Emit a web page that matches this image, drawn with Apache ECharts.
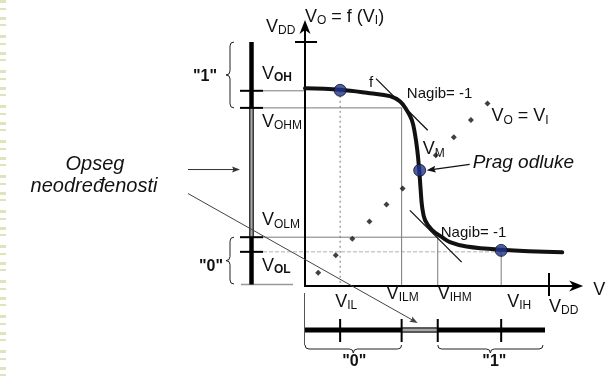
<!DOCTYPE html>
<html>
<head>
<meta charset="utf-8">
<script src="https://cdn.jsdelivr.net/npm/echarts@6/dist/echarts.min.js"></script>
<style>
  html, body { margin: 0; padding: 0; background: #fff; }
  #chart { width: 606px; height: 376px; }
</style>
</head>
<body>
<div id="chart"></div>
<script>
// Supply voltage (V)
const VDD = 5.0;
// Input thresholds on the VI axis (V)
const inputNames = ['IL', 'ILM', 'IHM', 'IH'];
const inputValues = [0.72, 1.98, 2.72, 4.02];
// Output levels on the VO axis (V)
const outputNames = ['OH', 'OHM', 'OLM', 'OL'];
const outputValues = [4.0, 3.65, 1.0, 0.7];
// Switching threshold VM, where VO = VI
const switchingPoint = [2.35, 2.37];
// Transfer characteristic VO = f(VI)
const vtcIn  = [0, 0.72, 1.33, 1.74, 1.95, 2.08, 2.19, 2.25, 2.30, 2.34, 2.37, 2.40, 2.46, 2.60, 2.80, 2.97, 3.31, 4.02, 5.27];
const vtcOut = [4.05, 4.02, 3.95, 3.89, 3.78, 3.61, 3.40, 3.135, 2.79, 2.38, 1.97, 1.625, 1.35, 1.15, 1.005, 0.90, 0.81, 0.745, 0.69];
// Dotted reference line VO = VI
const unityIn = [0.27, 0.63, 0.97, 1.32, 1.67, 2.00, 2.68, 3.05, 3.40, 3.74];
// Points where the curve has slope -1
const tangentAt = [[1.985, 3.72], [2.68, 1.02]];
const tangentHalf = 0.53;
// Axis extents drawn as arrows (V)
const axisEnd = { x: 5.7, y: 5.45 };

// ---- layout ----
const PX_PER_V = 48.8;
const ORIGIN = [305, 286];
const W = 606, H = 376;
const FONT = '"Liberation Sans", Arial, Helvetica, sans-serif';

const VIL = inputValues[0], VILM = inputValues[1], VIHM = inputValues[2], VIH = inputValues[3];
const VOH = outputValues[0], VOHM = outputValues[1], VOLM = outputValues[2], VOL = outputValues[3];

const rich = {
  v:  { fontSize: 18, lineHeight: 20, fontFamily: FONT, fill: '#111' },
  s:  { fontSize: 12, lineHeight: 12, padding: [8, 0, 0, 0], fontFamily: FONT, fill: '#111' },
  sb: { fontSize: 12, lineHeight: 12, padding: [8, 0, 0, 0], fontFamily: FONT, fontWeight: 'bold', fill: '#111' }
};
const vSub = (s, bold) => '{v|V}{' + (bold ? 'sb' : 's') + '|' + s + '}';

function renderDiagram(params, api) {
  const P = (x, y) => api.coord([x, y]);
  const xAt = v => P(v, 0)[0];
  const yAt = v => P(0, v)[1];
  const ax = xAt(0), ay = yAt(0);
  const kids = [];

  const line = (a, b, st) => kids.push({
    type: 'line', shape: { x1: a[0], y1: a[1], x2: b[0], y2: b[1] },
    style: Object.assign({ stroke: '#000', lineWidth: 1, lineCap: 'butt' }, st || {})
  });
  const head = (tip, from, len, hw, notch, color) => {
    const dx = tip[0] - from[0], dy = tip[1] - from[1];
    const d = Math.hypot(dx, dy), ux = dx / d, uy = dy / d;
    const bx = tip[0] - ux * len, by = tip[1] - uy * len;
    const nx = tip[0] - ux * (len - notch), ny = tip[1] - uy * (len - notch);
    kids.push({ type: 'polygon', shape: { points: [
      tip, [bx - uy * hw, by + ux * hw], [nx, ny], [bx + uy * hw, by - ux * hw]
    ] }, style: { fill: color || '#000' } });
  };
  const arrow = (a, b, st, len, hw) => {
    const dx = b[0] - a[0], dy = b[1] - a[1], d = Math.hypot(dx, dy);
    const e = [b[0] - dx / d * (len - 2), b[1] - dy / d * (len - 2)];
    line(a, e, st);
    head(b, a, len, hw, 1.5, (st && st.stroke) || '#000');
  };
  const path = (d, st) => kids.push({
    type: 'path', shape: { pathData: d },
    style: Object.assign({ stroke: '#222', fill: null, lineWidth: 1 }, st || {})
  });
  const braceV = (x, y1, y2) => {
    const m = (y1 + y2) / 2, r = 4;
    path(`M${x + r} ${y1} Q${x} ${y1} ${x} ${y1 + r} L${x} ${m - r} Q${x} ${m} ${x - r} ${m} ` +
         `Q${x} ${m} ${x} ${m + r} L${x} ${y2 - r} Q${x} ${y2} ${x + r} ${y2}`);
  };
  const braceH = (y, x1, x2) => {
    const m = (x1 + x2) / 2, r = 4;
    path(`M${x1} ${y - r} Q${x1} ${y} ${x1 + r} ${y} L${m - r} ${y} Q${m} ${y} ${m} ${y + r} ` +
         `Q${m} ${y} ${m + r} ${y} L${x2 - r} ${y} Q${x2} ${y} ${x2} ${y - r}`);
  };
  const text = (x, y, t, st) => kids.push({
    type: 'text', z2: 10,
    style: Object.assign({ x: x, y: y, text: t, rich: rich, fill: '#111', fontFamily: FONT,
      fontSize: 15, align: 'left', verticalAlign: 'middle' }, st || {})
  });

  const GREY = { stroke: '#7a7a7a', lineWidth: 1 };

  // guide lines from output levels
  const tickL = ax - 65, tickR = ax - 42;
  line([tickR, yAt(VOH)], [ax, yAt(VOH)], GREY);
  line([tickR, yAt(VOHM)], [xAt(VILM), yAt(VOHM)], GREY);
  line([tickR, yAt(VOLM)], [xAt(VIHM), yAt(VOLM)], GREY);
  line([tickR, yAt(VOL)], [xAt(VIH), yAt(VOL)], { stroke: '#b0b0b0', lineWidth: 1, lineDash: [4, 2] });
  line([ax - 64, ay - 1.5], [ax - 12, ay - 1.5], { stroke: '#999', lineWidth: 1.5 });
  // guide lines to input thresholds
  line([xAt(VIL), yAt(VOH)], [xAt(VIL), ay], { stroke: '#777', lineWidth: 1, lineDash: [2, 3] });
  line([xAt(VILM), yAt(VOHM)], [xAt(VILM), ay], GREY);
  line([xAt(VIHM), yAt(VOLM)], [xAt(VIHM), ay], GREY);
  line([xAt(VIH), yAt(VOL)], [xAt(VIH), ay], GREY);

  // slope -1 tangents
  tangentAt.forEach(t => line(P(t[0] - tangentHalf, t[1] + tangentHalf), P(t[0] + tangentHalf, t[1] - tangentHalf),
    { stroke: '#111', lineWidth: 1.3 }));

  // axes
  const yTop = yAt(axisEnd.y), xEnd = xAt(axisEnd.x);
  line([ax, ay], [ax, yTop + 10], { lineWidth: 2 });
  head([ax, yTop], [ax, ay], 14, 5.5, 4);
  line([ax - 1, ay], [xEnd - 10, ay], { lineWidth: 2 });
  head([xEnd, ay], [ax, ay], 14, 5.5, 4);
  line([ax - 10, yAt(VDD)], [ax + 12, yAt(VDD)], { lineWidth: 2 });
  line([xAt(VDD), ay - 13], [xAt(VDD), ay + 10], { lineWidth: 2 });

  // output level bar
  const bx = ax - 53.5;
  line([bx, yAt(VDD)], [bx, yAt(VOHM)], { lineWidth: 4.5 });
  line([bx, yAt(VOHM)], [bx, yAt(VOLM)], { stroke: '#3a3a3a', lineWidth: 5 });
  line([bx, yAt(VOHM)], [bx, yAt(VOLM)], { stroke: '#a8a8a8', lineWidth: 2 });
  line([bx, yAt(VOLM)], [bx, ay - 1.5], { lineWidth: 4.5 });
  outputValues.forEach(v => line([tickL, yAt(v)], [tickR, yAt(v)], { lineWidth: 2 }));

  // input level bar
  const by = ay + 44;
  line([ax - 0.5, ay + 7], [ax - 0.5, ay + 59], { stroke: '#555', lineWidth: 1 });
  line([ax, by], [xAt(VDD) - 4, by], { lineWidth: 5 });
  line([xAt(VILM), by], [xAt(VIHM), by], { stroke: '#3a3a3a', lineWidth: 5 });
  line([xAt(VILM), by], [xAt(VIHM), by], { stroke: '#a8a8a8', lineWidth: 2.5 });
  inputValues.forEach(v => line([xAt(v), ay + 33], [xAt(v), ay + 56], { lineWidth: 2 }));

  // braces
  braceV(ax - 75, yAt(VDD), yAt(VOHM));
  braceV(ax - 75, yAt(VOLM), ay - 2);
  braceH(ay + 63, ax, xAt(VILM));
  braceH(ay + 63, xAt(VIHM), xAt(VDD) - 6);

  // arrows into the undefined region
  const midY = (yAt(VOHM) + yAt(VOLM)) / 2 - 3;
  arrow([ax - 117, midY], [ax - 65, midY], { stroke: '#333', lineWidth: 1 }, 8, 3);
  arrow([ax - 117, midY + 24], [(xAt(VILM) + xAt(VIHM)) / 2 - 2, by - 7], { stroke: '#444', lineWidth: 1 }, 8, 3);
  const vm = P(switchingPoint[0], switchingPoint[1]);
  arrow([vm[0] + 50, vm[1] - 6], [vm[0] + 7, vm[1]], { stroke: '#111', lineWidth: 1.2 }, 9, 3.5);

  // texts
  text(ax - 39, yAt(VDD) - 15, vSub('DD'));
  text(ax, yTop - 3, '{v|V}{s|O}{v| = f (V}{s|I}{v|)}');
  const outSide = [-1, 1, -1, 1];
  outputNames.forEach((n, i) => text(ax - 43, yAt(outputValues[i]) + outSide[i] * 15.5 - 1.5,
    vSub(n, n === 'OH' || n === 'OL')));
  const inOffset = [[-5, 16], [-15, 8], [0, 8], [6, 16]];
  inputNames.forEach((n, i) => text(xAt(inputValues[i]) + inOffset[i][0], ay + inOffset[i][1], vSub(n)));
  text(xAt(VDD), ay + 21, vSub('DD'));
  text(xEnd + 10, ay + 4, vSub('I'));
  text(vm[0] + 3, vm[1] - 21, vSub('M'));
  text(vm[0] + 53, vm[1] - 8, 'Prag odluke', { fontSize: 19, fontStyle: 'italic', rich: null });
  const tU = P(tangentAt[0][0], tangentAt[0][1]), tL = P(tangentAt[1][0], tangentAt[1][1]);
  text(tU[0] + 5, tU[1] - 10.5, 'Nagib= -1', { fontSize: 15, rich: null });
  text(tL[0] + 5, tL[1] - 3, 'Nagib= -1', { fontSize: 15, rich: null });
  const tTop = P(tangentAt[0][0] - tangentHalf, tangentAt[0][1] + tangentHalf);
  text(tTop[0] - 5, tTop[1] + 4, 'f', { fontSize: 15, align: 'center', rich: null });
  const uLast = P(unityIn[unityIn.length - 1], unityIn[unityIn.length - 1]);
  text(uLast[0] + 4, uLast[1] + 13, '{v|V}{s|O}{v| = V}{s|I}');
  const bold = { fontSize: 16, fontWeight: 'bold', align: 'center', rich: null };
  text(ax - 100, (yAt(VDD) + yAt(VOHM)) / 2 + 2, '"1"', bold);
  text(ax - 94, (yAt(VOLM) + ay) / 2 + 5, '"0"', bold);
  text((ax + xAt(VILM)) / 2 + 1, ay + 76, '"0"', bold);
  text((xAt(VIHM) + xAt(VDD) - 6) / 2 + 4, ay + 76, '"1"', bold);
  const it = { fontSize: 20, fontStyle: 'italic', align: 'center', rich: null };
  text(ax - 210, midY - 5, 'Opseg', it);
  text(ax - 211, midY + 17, 'neodređenosti', it);

  return { type: 'group', children: kids };
}

const chart = echarts.init(document.getElementById('chart'), null, { renderer: 'canvas' });
chart.setOption({
  animation: false,
  backgroundColor: '#fff',
  grid: { left: 0, right: 0, top: 0, bottom: 0 },
  xAxis: { type: 'value', min: -ORIGIN[0] / PX_PER_V, max: (W - ORIGIN[0]) / PX_PER_V, show: false },
  yAxis: { type: 'value', min: -(H - ORIGIN[1]) / PX_PER_V, max: ORIGIN[1] / PX_PER_V, show: false },
  graphic: [{
    type: 'line', shape: { x1: 3, y1: 0, x2: 3, y2: H }, silent: true,
    style: { stroke: '#e2e2c0', lineWidth: 6, lineDash: [3, 5, 2, 7, 3, 4, 2, 9] }
  }],
  series: [
    { type: 'custom', silent: true, z: 1, data: [[0, 0]], encode: { x: 0, y: 1 }, renderItem: renderDiagram },
    {
      type: 'line', silent: true, z: 3, symbol: 'none', smooth: 0.4,
      data: vtcIn.map((x, i) => [x, vtcOut[i]]),
      lineStyle: { color: '#111', width: 4, cap: 'round', join: 'round' }
    },
    {
      type: 'scatter', silent: true, z: 2, symbol: 'diamond', symbolSize: 6,
      data: unityIn.map(x => [x, x]), itemStyle: { color: '#111' }
    },
    {
      type: 'scatter', silent: true, z: 4, symbolSize: 12,
      data: [[VIL, VOH + 0.01], switchingPoint, [VIH, VOL + 0.03]],
      itemStyle: { color: '#1f3590', borderColor: '#111', borderWidth: 1 }
    }
  ]
});
</script>
</body>
</html>
